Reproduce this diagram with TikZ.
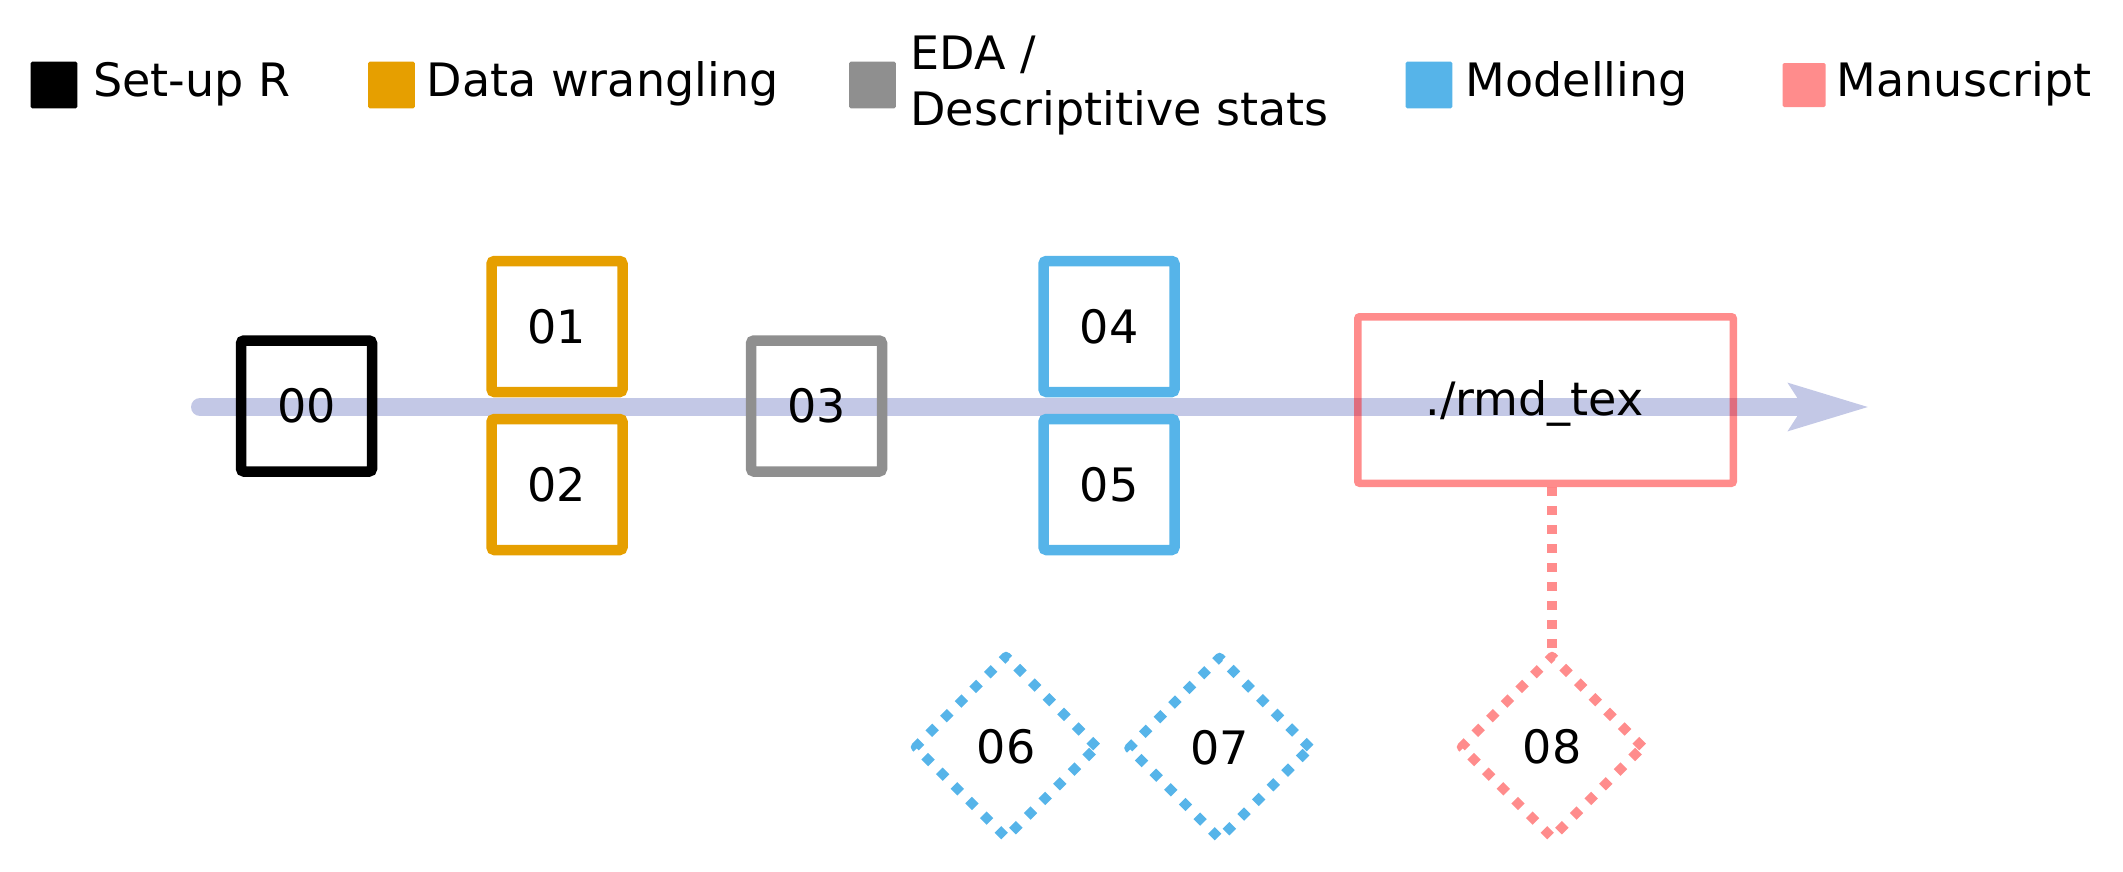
\documentclass[tikz,border=0pt]{standalone}
\usepackage{fontspec}
\setmainfont{DejaVu Sans}
\usetikzlibrary{arrows.meta,shapes.geometric}
\definecolor{corange}{RGB}{230,159,0}
\definecolor{cgray}{RGB}{143,143,143}
\definecolor{cblue}{RGB}{86,180,233}
\definecolor{cpinkleg}{RGB}{255,140,140}
\definecolor{clav}{RGB}{195,200,230}
\begin{document}
\begin{tikzpicture}[x=0.1mm,y=-0.1mm,
  txt/.style={font=\fontsize{13.1pt}{16.1pt}\selectfont},
  legsq/.style={minimum size=4.66mm, inner sep=0pt, rounded corners=0.15mm},
  legtext/.style={txt, inner sep=0pt, anchor=base west},
  stepbox/.style={draw, txt, line width=1.05mm, minimum size=13.1mm, inner sep=0pt, rounded corners=0.3mm},
  manubox/.style={draw=red, draw opacity=0.45, line width=0.75mm, minimum width=37.55mm, minimum height=16.65mm, inner sep=0pt, rounded corners=0.2mm},
  dia/.style={diamond, aspect=1, draw, txt, line width=0.95mm, line join=round, minimum size=18.5mm, inner sep=0pt, dash pattern=on 0.95mm off 1.12mm},
  arrowline/.style={draw=clav, line width=1.8mm, line cap=round, -{Stealth[length=7.9mm, width=4.5mm, inset=1.3mm]}},
  pinkdot/.style={draw=red, draw opacity=0.45, line width=1.0mm, dash pattern=on 0.9mm off 1.0mm}
]
\useasboundingbox (0,0) rectangle (2123,871);

% legend
\node[legsq, fill=black] (l0) at (54,85) {};
\node[legtext] (lt0) at (92.5,96.7) {Set-up R};
\node[legsq, fill=corange] (l1) at (391.5,85) {};
\node[legtext] (lt1) at (426,96.7) {Data wrangling};
\node[legsq, fill=cgray] (l2) at (872.5,85) {};
\node[txt, inner sep=0pt, anchor=north west, align=left] (lt2) at (909.7,35) {EDA /\\Descriptitive stats};
\node[legsq, fill=cblue] (l3) at (1429,85) {};
\node[legtext] (lt3) at (1465,96.7) {Modelling};
\node[legsq, fill=cpinkleg, minimum width=4.3mm, minimum height=4.4mm] (l4) at (1804,85) {};
\node[legtext] (lt4) at (1836,96.7) {Manuscript};

% timeline
\coordinate (astart) at (200,407);
\coordinate (aend) at (1869.5,407);
\draw[arrowline] (astart) -- (aend);

% steps
\node[stepbox, draw=black] (s00) at (306.5,406) {00};
\node[stepbox, draw=corange] (s01) at (557,326.5) {01};
\node[stepbox, draw=corange] (s02) at (557,484.5) {02};
\node[stepbox, draw=cgray] (s03) at (816.5,406) {03};
\node[stepbox, draw=cblue] (s04) at (1109,326.5) {04};
\node[stepbox, draw=cblue] (s05) at (1109,484.5) {05};
\node[manubox, label={[txt, xshift=-1.1mm, yshift=-0.3mm]center:./rmd\_tex}] (manu) at (1545.5,400) {};

% diamonds
\node[dia, draw=cblue] (d06) at (1006,747) {06};
\node[dia, draw=cblue] (d07) at (1219.5,748) {07};
\node[dia, draw=red, draw opacity=0.45] (d08) at (1552,747) {08};

% connector
\draw[pinkdot] (manu.south -| d08.north) -- (d08.north);
\end{tikzpicture}
\end{document}
